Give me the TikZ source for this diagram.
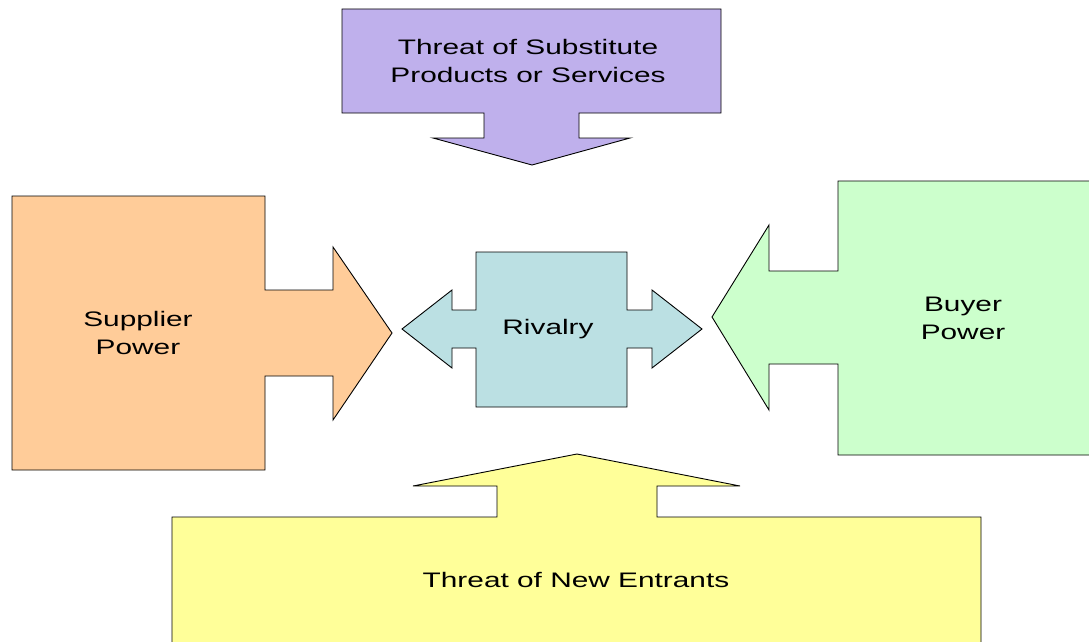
\documentclass[tikz,border=0pt]{standalone}
\usepackage{fontspec}
\setmainfont{Liberation Sans}
\newfontfamily\widefont[FakeStretch=1.42]{Liberation Sans}
\definecolor{cpurple}{RGB}{191,176,236}
\definecolor{corange}{RGB}{255,204,153}
\definecolor{cblue}{RGB}{187,224,227}
\definecolor{cgreen}{RGB}{204,255,204}
\definecolor{cyellow}{RGB}{255,255,153}
\begin{document}
\begin{tikzpicture}[x=1pt,y=-1pt,
  force/.style={draw=black,line width=0.9pt,line join=miter},
  lbl/.style={align=center,font=\widefont\fontsize{21}{28}\selectfont,inner sep=0pt}]
\useasboundingbox (0,0) rectangle (1089,642);
% Threat of substitutes (top, pointing down)
\draw[force,fill=cpurple] (342,9) -- (721,9) -- (721,113) -- (579,113) -- (579,138)
  -- (630,138) -- (532,165) -- (433,138) -- (484,138) -- (484,113) -- (342,113) -- cycle;
\node[lbl] (subst) at (528,61) {Threat of Substitute\\Products or Services};
% Supplier power (left, pointing right)
\draw[force,fill=corange] (12,196) -- (265,196) -- (265,290) -- (333,290) -- (333,247)
  -- (392,333) -- (333,420) -- (333,376) -- (265,376) -- (265,470) -- (12,470) -- cycle;
\node[lbl] (supp) at (138,333) {Supplier\\Power};
% Rivalry (centre, double arrow)
\draw[force,fill=cblue] (476,252) -- (627,252) -- (627,310) -- (652,310) -- (652,290)
  -- (702,329) -- (652,368) -- (652,348) -- (627,348) -- (627,407) -- (476,407)
  -- (476,348) -- (452,348) -- (452,368) -- (402,329) -- (452,290) -- (452,310)
  -- (476,310) -- cycle;
\node[lbl] (riv) at (548,329) {Rivalry};
% Buyer power (right, pointing left)
\draw[force,fill=cgreen] (1095,181) -- (838,181) -- (838,271) -- (769,271) -- (769,225)
  -- (712,317) -- (769,410) -- (769,364) -- (838,364) -- (838,455) -- (1095,455);
\node[lbl] (buy) at (963,318) {Buyer\\Power};
% Threat of new entrants (bottom, pointing up)
\draw[force,fill=cyellow] (172,650) -- (172,517) -- (497,517) -- (497,486) -- (413,486)
  -- (577,454) -- (740,486) -- (657,486) -- (657,517) -- (981,517) -- (981,650);
\node[lbl] (entr) at (576,580) {Threat of New Entrants};
\end{tikzpicture}
\end{document}
